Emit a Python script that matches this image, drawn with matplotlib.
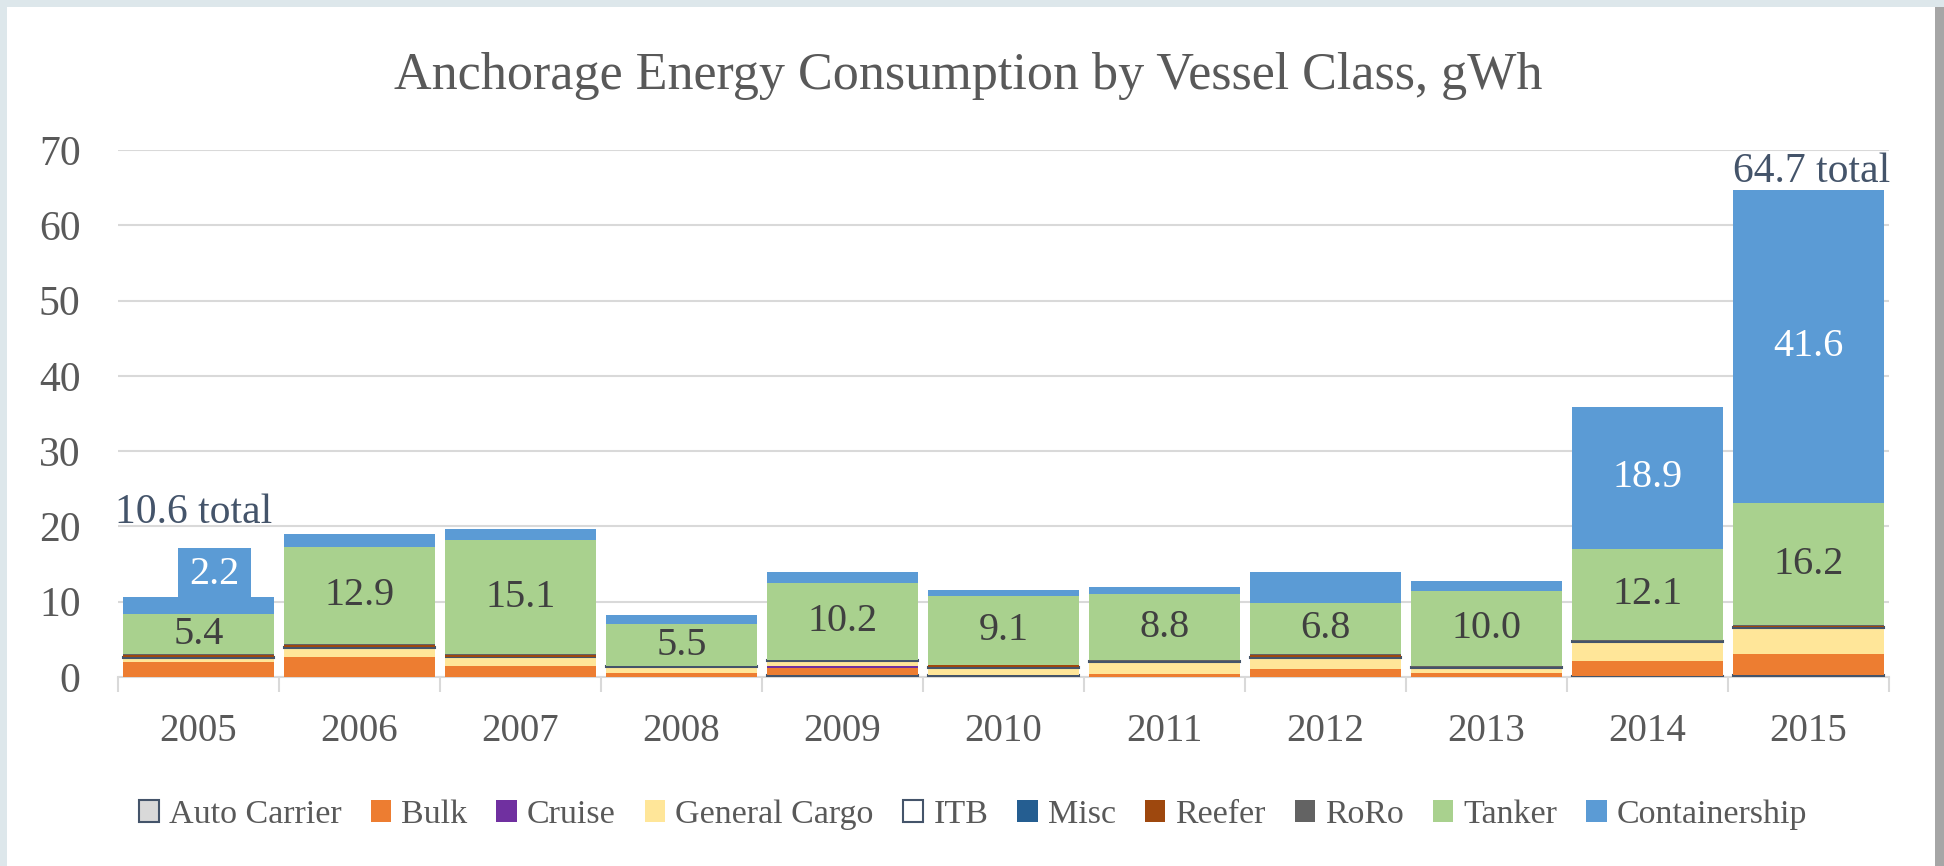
import matplotlib
matplotlib.use("Agg")
import matplotlib.pyplot as plt
from matplotlib.patches import Rectangle, Patch
import numpy as np

years = ["2005", "2006", "2007", "2008", "2009", "2010", "2011", "2012", "2013", "2014", "2015"]
classes = ["Auto Carrier", "Bulk", "Cruise", "General Cargo", "ITB", "Misc",
           "Reefer", "RoRo", "Tanker", "Containership"]

auto_carrier  = [0.0, 0.0, 0.0, 0.0, 0.2, 0.2, 0.0, 0.0, 0.0, 0.1, 0.3]
bulk          = [2.0, 2.7, 1.5, 0.5, 1.0, 0.1, 0.45, 1.0, 0.5, 2.0, 2.8]
cruise        = [0.0, 0.0, 0.0, 0.0, 0.2, 0.0, 0.0, 0.0, 0.0, 0.0, 0.0]
general_cargo = [0.5, 1.2, 1.1, 0.8, 0.7, 0.9, 1.55, 1.5, 0.7, 2.5, 3.4]
itb           = [0.1, 0.1, 0.1, 0.15, 0.15, 0.1, 0.15, 0.1, 0.15, 0.2, 0.1]
misc          = [0.0, 0.0, 0.0, 0.0, 0.0, 0.0, 0.0, 0.0, 0.0, 0.0, 0.0]
reefer        = [0.3, 0.2, 0.25, 0.0, 0.0, 0.25, 0.0, 0.35, 0.0, 0.0, 0.2]
roro          = [0.1, 0.15, 0.1, 0.05, 0.05, 0.05, 0.05, 0.05, 0.05, 0.1, 0.1]
tanker        = [5.4, 12.9, 15.1, 5.5, 10.2, 9.1, 8.8, 6.8, 10.0, 12.1, 16.2]
containership = [2.2, 1.8, 1.5, 1.3, 1.5, 0.8, 1.0, 4.2, 1.3, 18.9, 41.6]

totals_shown = {0: "10.6 total", 10: "64.7 total"}
container_labels = [0, 9, 10]

series = [auto_carrier, bulk, cruise, general_cargo, itb, misc, reefer, roro, tanker, containership]
colors = ["#D9D9D9", "#ED7D31", "#7030A0", "#FFE699", "#FFFFFF", "#255E91",
          "#9E480E", "#636363", "#A9D18E", "#5B9BD5"]
edges = {0: "#44546A", 4: "#44546A"}

FONT = "Liberation Serif"
plt.rcParams["font.family"] = [FONT, "DejaVu Serif"]

W, H = 1944, 866
fig = plt.figure(figsize=(W / 100, H / 100), dpi=100)
fig.patch.set_facecolor("#DDE7EB")
# white panel + right shadow
fig.add_artist(Rectangle((1935 / W, 0), 9 / W, (H - 7) / H, transform=fig.transFigure,
                         facecolor="#A6A6A6", edgecolor="none", zorder=0))
fig.add_artist(Rectangle((7 / W, 0), (1935 - 7) / W, (H - 7) / H, transform=fig.transFigure,
                         facecolor="white", edgecolor="none", zorder=0))

ax = fig.add_axes([118 / W, (H - 677) / H, (1889 - 118) / W, (677 - 150) / H])
ax.set_facecolor("none")
x = np.arange(len(years))
bw = 0.944
bottom = np.zeros(len(years))
for i, (vals, c) in enumerate(zip(series, colors)):
    vals = np.array(vals)
    if i in edges:
        ax.bar(x, vals, bw, bottom=bottom, color=c, edgecolor=edges[i], linewidth=1.5,
               label=classes[i], zorder=3)
    else:
        ax.bar(x, vals, bw, bottom=bottom, color=c, edgecolor="none", label=classes[i], zorder=3)
    if classes[i] == "Tanker":
        for j in range(len(years)):
            ax.text(x[j], bottom[j] + vals[j] / 2, f"{vals[j]:.1f}", ha="center", va="center",
                    fontsize=29, color="#404040", zorder=5)
    if classes[i] == "Containership":
        for j in container_labels:
            if j == 0:
                # label box sticking above the bar
                bx = x[j] + 0.1
                top = bottom[j] + vals[j]
                ax.add_patch(Rectangle((bx - 0.227, top - 0.3), 0.454, 6.8, facecolor=c,
                                       edgecolor="none", zorder=4))
                ax.text(bx, top + 3.0, f"{vals[j]:.1f}", ha="center", va="center",
                        fontsize=29, color="white", zorder=5)
            else:
                ax.text(x[j], bottom[j] + vals[j] / 2, f"{vals[j]:.1f}", ha="center",
                        va="center", fontsize=29, color="white", zorder=5)
    bottom = bottom + vals

for j, lab in totals_shown.items():
    if j == 0:
        ax.text(x[j] - 0.03, bottom[j] + 9.8, lab, ha="center", va="baseline",
                fontsize=30, color="#44546A", zorder=5)
    else:
        ax.text(x[j] + 0.02, bottom[j] + 1.0, lab, ha="center", va="baseline",
                fontsize=30, color="#44546A", zorder=5)

ax.set_xlim(-0.5, len(years) - 0.5)
ax.set_ylim(0, 70)
ax.set_yticks(np.arange(0, 71, 10))
ax.yaxis.grid(True, color="#D9D9D9", linewidth=1.5, zorder=0)
ax.set_axisbelow(True)
for s in ["top", "right", "left"]:
    ax.spines[s].set_visible(False)
ax.spines["bottom"].set_color("#D9D9D9")
ax.spines["bottom"].set_linewidth(1.5)
ax.tick_params(axis="y", length=0, pad=27, labelsize=30, labelcolor="#595959")
ax.set_xticks(x)
ax.set_xticklabels(years)
ax.tick_params(axis="x", length=0, pad=26, labelsize=28, labelcolor="#595959")
ax.set_xticks(np.arange(-0.5, len(years), 1.0), minor=True)
ax.tick_params(axis="x", which="minor", length=11, width=1.5, color="#D9D9D9")

fig.text(968 / W, 1 - 76 / H, "Anchorage Energy Consumption by Vessel Class, gWh",
         ha="center", va="center", fontsize=37.5, color="#595959")

handles = []
for i, c in enumerate(colors):
    ec = edges.get(i, "none")
    handles.append(Patch(facecolor=c, edgecolor=ec, linewidth=1.5, label=classes[i]))
leg = fig.legend(handles=handles, loc="center", bbox_to_anchor=(973 / W, 1 - 815 / H),
                 ncol=10, frameon=False, fontsize=24.5, handlelength=0.6, handleheight=0.6,
                 handletextpad=0.3, columnspacing=0.85, labelcolor="#595959")

fig.savefig("out.png", dpi=100, facecolor=fig.get_facecolor())
